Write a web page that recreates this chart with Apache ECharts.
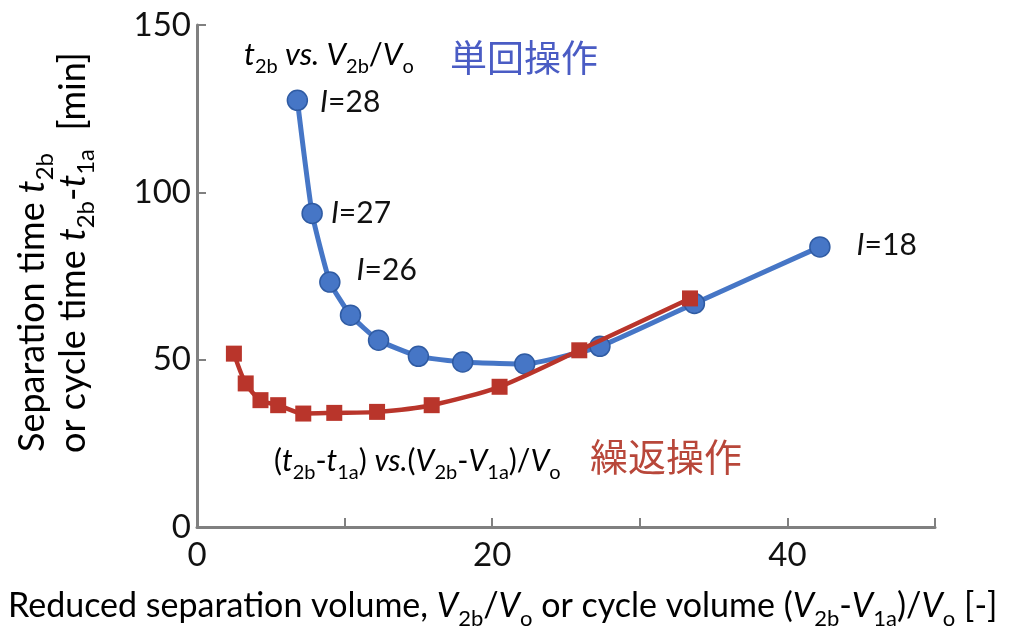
<!DOCTYPE html>
<html>
<head>
<meta charset="utf-8">
<script src="https://cdn.jsdelivr.net/npm/echarts@6/dist/echarts.min.js"></script>
<style>
  html, body { margin: 0; padding: 0; background: #fff; }
  #chart { width: 1010px; height: 634px; }
</style>
</head>
<body>
<div id="chart"></div>
<script>
// Single operation: separation time t2b vs. V2b/Vo
const singleX = [6.8, 7.8, 9.0, 10.4, 12.3, 15.0, 18.0, 22.2, 27.3, 33.7, 42.2];
const singleY = [127.5, 93.7, 73.2, 63.3, 55.8, 51.0, 49.3, 48.7, 54.0, 66.8, 83.7];
const singleTags = ['28', '27', '26', '', '', '', '', '', '', '', '18'];

// Repeated operation: cycle time (t2b - t1a) vs. (V2b - V1a)/Vo
const repeatX = [2.5, 3.3, 4.3, 5.5, 7.2, 9.3, 12.2, 15.9, 20.5, 25.9, 33.4];
const repeatY = [51.8, 42.9, 37.9, 36.4, 33.9, 34.1, 34.4, 36.4, 41.9, 52.8, 68.3];

// Axis ticks and the labelled subset
const xTicks = [0, 10, 20, 30, 40, 50];
const xLabelled = [0, 20, 40];
const yTicks = [0, 50, 100, 150];

const FONT = 'Lato, "Open Sans", sans-serif';
const CJK = '"Noto Sans CJK JP", sans-serif';
const BLUE = '#4676c6';
const BLUE_EDGE = '#2f5ba3';
const RED = '#b9352b';

// rich styles: normal, italic, subscript
function richSet(size, color) {
  const sub = Math.round(size * 0.66);
  return {
    n: { fontFamily: FONT, fontSize: size, color: color, lineHeight: size + 6, verticalAlign: 'middle' },
    i: { fontFamily: FONT, fontSize: size, color: color, fontStyle: 'italic', lineHeight: size + 6, verticalAlign: 'middle' },
    s: { fontFamily: FONT, fontSize: sub, color: color, lineHeight: sub, verticalAlign: 'bottom', padding: [0, 0, -4, 0] }
  };
}

const tagOffsets = { '28': [2, 2], '27': [-2, 0], '26': [6, -12], '18': [16, -2] };
const singleData = singleX.map((x, k) => {
  const item = { value: [x, singleY[k]] };
  if (singleTags[k]) {
    item.label = {
      show: true,
      position: 'right',
      distance: 10,
      offset: tagOffsets[singleTags[k]],
      formatter: '{i|I}{n|=' + singleTags[k] + '}',
      rich: richSet(30, '#111')
    };
  }
  return item;
});
const repeatData = repeatX.map((x, k) => [x, repeatY[k]]);

const chart = echarts.init(document.getElementById('chart'));
chart.setOption({
  animation: false,
  backgroundColor: '#fff',
  grid: { left: 197, right: 75, top: 25, bottom: 107 },
  xAxis: {
    type: 'value',
    min: xTicks[0],
    max: xTicks[xTicks.length - 1],
    interval: xTicks[1] - xTicks[0],
    axisLine: { show: true, lineStyle: { color: '#808080', width: 3 } },
    axisTick: { show: true, inside: true, length: 9, lineStyle: { color: '#808080', width: 2 } },
    splitLine: { show: false },
    axisLabel: {
      margin: 12,
      fontFamily: FONT, fontSize: 33, color: '#111',
      formatter: v => (xLabelled.indexOf(v) >= 0 ? String(v) : '')
    }
  },
  yAxis: {
    type: 'value',
    min: yTicks[0],
    max: yTicks[yTicks.length - 1],
    interval: yTicks[1] - yTicks[0],
    axisLine: { show: true, lineStyle: { color: '#808080', width: 3 } },
    axisTick: { show: true, inside: true, length: 9, lineStyle: { color: '#808080', width: 2 } },
    splitLine: { show: false },
    axisLabel: { margin: 6, fontFamily: FONT, fontSize: 33, color: '#111' }
  },
  series: [
    {
      name: 'single',
      type: 'line',
      data: singleData,
      smooth: 0.15,
      symbol: 'circle',
      symbolSize: 20,
      lineStyle: { color: BLUE, width: 5 },
      itemStyle: { color: BLUE, borderColor: BLUE_EDGE, borderWidth: 1.5 },
      z: 2
    },
    {
      name: 'repeat',
      type: 'line',
      data: repeatData,
      smooth: 0.25,
      symbol: 'rect',
      symbolSize: 16,
      lineStyle: { color: RED, width: 4.5 },
      itemStyle: { color: RED },
      z: 3
    }
  ],
  graphic: [
    {
      type: 'text', left: 244, top: 39, z: 10,
      style: {
        text: '{i|t}{s|2b}{i| vs. V}{s|2b}{n|/}{i|V}{s|o}',
        rich: richSet(31, '#111')
      }
    },
    {
      type: 'text', left: 450, top: 39, z: 10,
      style: { text: '単回操作', fontFamily: CJK, fontSize: 37, fill: '#4a5cc4' }
    },
    {
      type: 'text', left: 274, top: 446, z: 10,
      style: {
        text: '{n|(}{i|t}{s|2b}{n|-}{i|t}{s|1a}{n|) }{i|vs.}{n|(}{i|V}{s|2b}{n|-}{i|V}{s|1a}{n|)/}{i|V}{s|o}',
        rich: richSet(30, '#111')
      }
    },
    {
      type: 'text', left: 590, top: 438, z: 10,
      style: { text: '繰返操作', fontFamily: CJK, fontSize: 38, fill: '#b8473a' }
    },
    {
      type: 'text', left: 8, top: 589, z: 10,
      style: {
        text: '{n|Reduced separation volume, }{i|V}{s|2b}{n|/}{i|V}{s|o}{n| or cycle volume (}{i|V}{s|2b}{n|-}{i|V}{s|1a}{n|)/}{i|V}{s|o}{n| [-]}',
        rich: richSet(34, '#111')
      }
    },
    {
      type: 'text', x: 32, y: 452, rotation: Math.PI / 2, z: 10,
      style: {
        text: '{n|Separation time }{i|t}{s|2b}',
        rich: richSet(36, '#111'),
        align: 'left', verticalAlign: 'middle'
      }
    },
    {
      type: 'text', x: 73, y: 453, rotation: Math.PI / 2, z: 10,
      style: {
        text: '{n|or cycle time }{i|t}{s|2b}{n|-}{i|t}{s|1a}{n|  [min]}',
        rich: richSet(36, '#111'),
        align: 'left', verticalAlign: 'middle'
      }
    }
  ]
});
</script>
</body>
</html>
